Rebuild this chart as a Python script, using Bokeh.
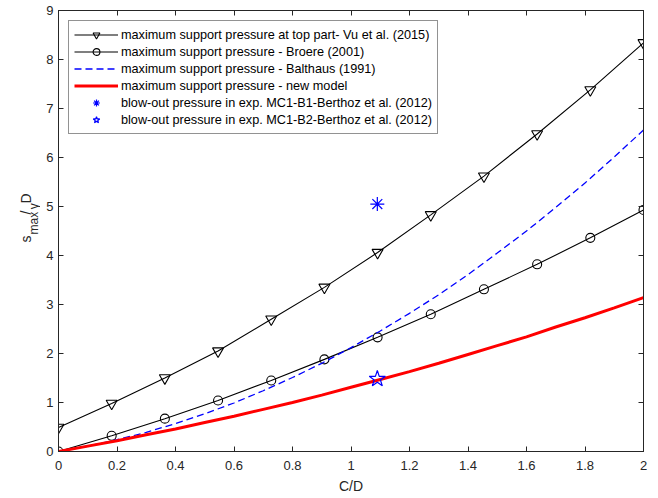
import math

from bokeh.core.properties import value
from bokeh.embed import file_html
from bokeh.layouts import row
from bokeh.models import (ColumnDataSource, CustomJSTickFormatter, FixedTicker,
                          Legend, LegendItem, LinearAxis, Range1d)
from bokeh.plotting import figure
from bokeh.resources import INLINE

# Relative cover depth C/D at which the discrete models are evaluated
x_points = [0.0, 0.1818, 0.3636, 0.5455, 0.7273, 0.9091, 1.0909,
            1.2727, 1.4545, 1.6364, 1.8182, 2.0]
vu_2015 = [0.49, 0.98, 1.50, 2.05, 2.70, 3.35, 4.06, 4.83, 5.62, 6.48, 7.38, 8.34]
broere_2001 = [0.0, 0.32, 0.67, 1.04, 1.45, 1.88, 2.33, 2.80, 3.31, 3.82, 4.36, 4.93]

# Continuous curves
x_curve = [0.0, 0.1, 0.2, 0.3, 0.4, 0.5, 0.6, 0.7, 0.8, 0.9, 1.0,
           1.1, 1.2, 1.3, 1.4, 1.5, 1.6, 1.7, 1.8, 1.9, 2.0]
balthaus_1991 = [0.0, 0.11, 0.24, 0.39, 0.57, 0.77, 0.99, 1.24, 1.51, 1.80, 2.12,
                 2.46, 2.82, 3.20, 3.61, 4.05, 4.50, 4.98, 5.48, 6.01, 6.56]
new_model = [0.0, 0.11, 0.22, 0.34, 0.46, 0.59, 0.72, 0.86, 1.00, 1.15, 1.31,
             1.47, 1.63, 1.80, 1.98, 2.16, 2.34, 2.54, 2.73, 2.93, 3.14]

# Berthoz et al. (2012) blow-out experiments
exp_x = [1.09]
exp_b1 = [5.05]
exp_b2 = [1.48]

x_ticks = [0, 0.2, 0.4, 0.6, 0.8, 1, 1.2, 1.4, 1.6, 1.8, 2]
y_ticks = [0, 1, 2, 3, 4, 5, 6, 7, 8, 9]

FONT = "Liberation Sans"
AXIS_COLOR = "#262626"
HEIGHT = 498
SIDE_W = 40

p = figure(width=658 - SIDE_W, height=HEIGHT, output_backend="svg",
           toolbar_location=None,
           x_range=Range1d(0, 2), y_range=Range1d(0, 9),
           min_border_left=18, min_border_right=15,
           min_border_top=10, min_border_bottom=47)
p.background_fill_color = "white"
p.border_fill_color = "white"
p.outline_line_color = AXIS_COLOR
p.xgrid.visible = False
p.ygrid.visible = False

num_fmt = CustomJSTickFormatter(code="return String(Math.round(tick * 10) / 10);")
blank_fmt = CustomJSTickFormatter(code="return '';")


def style_axis(ax, ticks, fmt, show_labels=True):
    ax.ticker = FixedTicker(ticks=ticks)
    ax.formatter = fmt
    ax.major_tick_in = 5
    ax.major_tick_out = 0
    ax.minor_tick_line_color = None
    ax.axis_line_color = AXIS_COLOR
    ax.major_tick_line_color = AXIS_COLOR
    ax.major_label_text_color = AXIS_COLOR
    ax.major_label_text_font = FONT
    ax.major_label_text_font_size = "13px" if show_labels else "0px"
    ax.major_label_standoff = 5 if show_labels else 0


style_axis(p.xaxis[0], x_ticks, num_fmt)
p.xaxis[0].major_label_standoff = 9
p.xaxis[0].axis_label = "C/D"
p.xaxis[0].axis_label_text_font = FONT
p.xaxis[0].axis_label_text_font_size = "14px"
p.xaxis[0].axis_label_text_font_style = "normal"
p.xaxis[0].axis_label_text_color = AXIS_COLOR
p.xaxis[0].axis_label_standoff = 5

style_axis(p.yaxis[0], y_ticks, num_fmt)

top_axis = LinearAxis()
style_axis(top_axis, x_ticks, blank_fmt, show_labels=False)
p.add_layout(top_axis, "above")
right_axis = LinearAxis()
style_axis(right_axis, y_ticks, blank_fmt, show_labels=False)
p.add_layout(right_axis, "right")

pts = ColumnDataSource(dict(x=x_points, vu=vu_2015, broere=broere_2001))
crv = ColumnDataSource(dict(x=x_curve, balthaus=balthaus_1991, new=new_model))
exp = ColumnDataSource(dict(x=exp_x, b1=exp_b1, b2=exp_b2))

vu_line = p.line("x", "vu", source=pts, line_color="black", line_width=1.1)
vu_mark = p.scatter("x", "vu", source=pts, marker="inverted_triangle", size=11,
                    line_color="black", line_width=1.1, fill_color=None)
br_line = p.line("x", "broere", source=pts, line_color="black", line_width=1.1)
br_mark = p.scatter("x", "broere", source=pts, marker="circle", size=9,
                    line_color="black", line_width=1.1, fill_color=None)
ba_line = p.line("x", "balthaus", source=crv, line_color="#0000FF",
                 line_width=1.3, line_dash="7 4")
nm_line = p.line("x", "new", source=crv, line_color="#FF0000", line_width=3)
b1_mark = p.scatter("x", "b1", source=exp, marker="asterisk", size=14,
                    line_color="#0000FF", line_width=1.2)
b2_mark = p.scatter("x", "b2", source=exp, marker="star", size=17,
                    line_color="#0000FF", line_width=1.2, fill_color=None)

legend = Legend(items=[
    LegendItem(label="maximum support pressure at top part- Vu et al. (2015)",
               renderers=[vu_line, vu_mark]),
    LegendItem(label="maximum support pressure - Broere (2001)",
               renderers=[br_line, br_mark]),
    LegendItem(label="maximum support pressure - Balthaus (1991)",
               renderers=[ba_line]),
    LegendItem(label="maximum support pressure - new model",
               renderers=[nm_line]),
    LegendItem(label="blow-out pressure in exp. MC1-B1-Berthoz et al. (2012)",
               renderers=[b1_mark]),
    LegendItem(label="blow-out pressure in exp. MC1-B2-Berthoz et al. (2012)",
               renderers=[b2_mark]),
], location="top_left")
legend.margin = 10
legend.padding = 5
legend.spacing = 0
legend.glyph_width = 44
legend.glyph_height = 17
legend.label_height = 17
legend.label_standoff = 3
legend.label_text_font = FONT
legend.label_text_font_size = "12.7px"
legend.label_text_color = "black"
legend.border_line_color = AXIS_COLOR
legend.border_line_width = 1
legend.background_fill_color = "white"
legend.background_fill_alpha = 1
p.add_layout(legend, "center")

# Narrow strip left of the axes carrying the rotated label s_max / gamma D;
# its ranges equal its pixel size, so positions below are in pixels
side = figure(width=SIDE_W, height=HEIGHT, output_backend="svg",
              toolbar_location=None, x_axis_type=None, y_axis_type=None,
              x_range=Range1d(0, SIDE_W), y_range=Range1d(0, HEIGHT),
              min_border=0)
side.outline_line_color = None
side.xgrid.visible = False
side.ygrid.visible = False
side.background_fill_color = "white"
side.border_fill_color = "white"

main_x = 25.5
sub_x = 33.0
label_parts = [
    ("s", main_x, HEIGHT - 262, "14px"),
    ("max", sub_x, HEIGHT - 253, "12px"),
    ("/", main_x, HEIGHT - 230.5, "14px"),
    ("\u03b3", sub_x, HEIGHT - 224.5, "12px"),
    ("D", main_x, HEIGHT - 218, "14px"),
]
for txt, lx, ly, size in label_parts:
    side.text(x=[lx], y=[ly], text=[txt], angle=math.pi / 2,
              text_align="left", text_baseline="alphabetic",
              text_font=value(FONT), text_font_size=value(size),
              text_color=AXIS_COLOR)

layout = row(side, p)
open("out.html", "w").write(file_html(layout, INLINE))
